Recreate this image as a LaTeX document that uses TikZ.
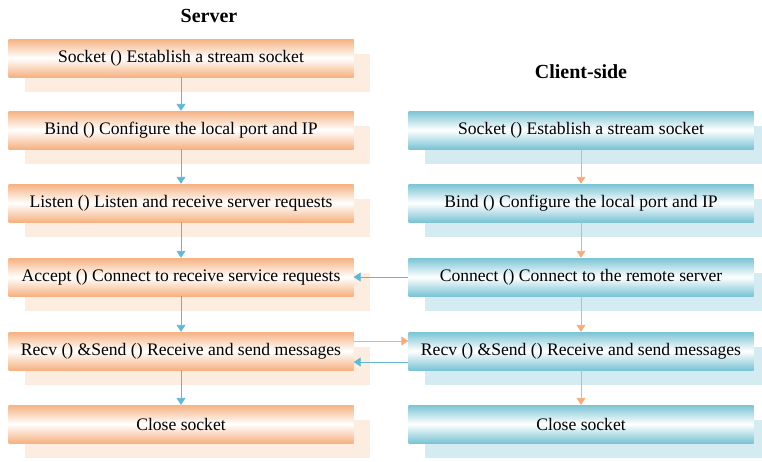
\documentclass[tikz,border=0pt]{standalone}
\usepackage{fontspec}
\setmainfont{Liberation Serif}
\usetikzlibrary{arrows.meta,shadows}

\definecolor{srvorange}{RGB}{246,178,130}
\definecolor{srvshade}{RGB}{253,237,225}
\definecolor{clicyan}{RGB}{122,196,212}
\definecolor{clishade}{RGB}{212,236,241}
\definecolor{bluearrow}{RGB}{96,184,212}
\definecolor{orangearrow}{RGB}{246,172,120}

\tikzset{
  srvbox/.style={rectangle, minimum width=345pt, minimum height=38pt, inner sep=0pt,
    top color=srvorange, bottom color=srvorange, middle color=white,
    general shadow={shadow xshift=16pt, shadow yshift=-15pt, fill=srvshade},
    font=\fontsize{17.6}{20}\selectfont},
  clibox/.style={srvbox, top color=clicyan, bottom color=clicyan, middle color=white,
    general shadow={shadow xshift=16pt, shadow yshift=-15pt, fill=clishade}},
  blueflow/.style={bluearrow, line width=0.9pt, -{Triangle[width=9pt,length=7pt]}},
  orangeflow/.style={orangearrow, line width=0.9pt, -{Triangle[width=9pt,length=7pt]}},
  heading/.style={font=\fontsize{20}{24}\selectfont\bfseries}
}

\begin{document}
\begin{tikzpicture}[x=1pt,y=-1pt]
  \useasboundingbox (0,0) rectangle (762,461);

  % server side
  \node [heading] (srvtitle) at (209,16) {Server};
  \node [srvbox] (ssocket) at (181,58) {Socket () Establish a stream socket};
  \node [srvbox] (sbind) at (181,130) {Bind () Configure the local port and IP};
  \node [srvbox] (slisten) at (181,203) {Listen () Listen and receive server requests};
  \node [srvbox] (saccept) at (181,277) {Accept () Connect to receive service requests};
  \node [srvbox] (srecv) at (181,351) {Recv () \&Send () Receive and send messages};
  \node [srvbox] (sclose) at (181,424) {Close socket};

  % client side
  \node [heading] (clititle) at (581,72) {Client-side};
  \node [clibox] (csocket) at (581,130) {Socket () Establish a stream socket};
  \node [clibox] (cbind) at (581,203) {Bind () Configure the local port and IP};
  \node [clibox] (cconnect) at (581,277) {Connect () Connect to the remote server};
  \node [clibox] (crecv) at (581,351) {Recv () \&Send () Receive and send messages};
  \node [clibox] (cclose) at (581,424) {Close socket};

  \draw [blueflow] (ssocket) -- (sbind);
  \draw [blueflow] (sbind) -- (slisten);
  \draw [blueflow] (slisten) -- (saccept);
  \draw [blueflow] (saccept) -- (srecv);
  \draw [blueflow] (srecv) -- (sclose);

  \draw [orangeflow] (csocket) -- (cbind);
  \draw [orangeflow] (cbind) -- (cconnect);
  \draw [orangeflow] (cconnect) -- (crecv);
  \draw [orangeflow] (crecv) -- (cclose);

  \draw [blueflow] (cconnect.west) -- (saccept.east);
  \draw [orangeflow] ([yshift=10pt]srecv.east) -- ([yshift=10pt]crecv.west);
  \draw [blueflow] ([yshift=-11pt]crecv.west) -- ([yshift=-11pt]srecv.east);
\end{tikzpicture}
\end{document}
